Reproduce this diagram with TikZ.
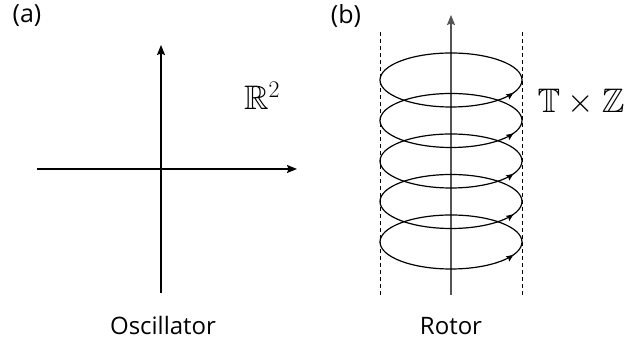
\RequirePackage{fix-cm}
\documentclass[tikz,border=0pt]{standalone}
\usepackage{amsmath,amssymb}
\DeclareFontFamily{U}{msb}{}
\DeclareFontShape{U}{msb}{m}{n}{<-> msbm10}{}
\usepackage{fontspec}
\setmainfont{Open Sans}
\usepackage{tikz}
\usetikzlibrary{arrows.meta,positioning,decorations.markings}
\definecolor{AxisGray}{HTML}{555555}
\tikzset{
  axisarr/.style={-{Stealth[length=10pt,width=8pt,inset=1.5pt]}, line width=1.2pt},
  spinloop/.style={line width=1.2pt, postaction={decorate},
    decoration={markings, mark=at position 0.95 with
      {\arrow{Stealth[length=7pt,width=6pt,inset=1pt]}}}},
  guideline/.style={line width=0.8pt, dash pattern=on 4pt off 3pt},
  paneltag/.style={font=\fontsize{25}{30}\selectfont, inner sep=0pt},
  caption/.style={font=\fontsize{24}{29}\selectfont, inner sep=0pt},
  spacelabel/.style={font=\fontsize{34}{40}\selectfont, inner sep=0pt},
}
\begin{document}
\begin{tikzpicture}[x=1pt, y=1pt]
  \useasboundingbox (0,0) rectangle (641,344);

  % (a) oscillator: the plane
  \node[paneltag] (taga) at (27,328) {(a)};
  \coordinate (oa) at (161,175);
  \draw[axisarr] (161,51) -- (161,299);
  \draw[axisarr] (37,175) -- (297,175);
  \node[spacelabel] (rtwo) at (262,248) {$\mathbb{R}^2$};
  \node[caption] (osc) at (163,18) {Oscillator};

  % (b) rotor: circle times integers
  \node[paneltag] (tagb) at (346,328) {(b)};
  \draw[axisarr, draw=AxisGray] (451,49) -- (451,329);
  \draw[guideline] (380,49) -- (380,312);
  \draw[guideline] (522,49) -- (522,312);
  \foreach \yc in {264,223.5,183,142.5,102}
    \draw[spinloop] (451,\yc) ellipse (71 and 27);
  \node[spacelabel] (tz) at (581,242) {$\mathbb{T}\times\mathbb{Z}$};
  \node[caption] (rot) at (451,18) {Rotor};
\end{tikzpicture}
\end{document}
